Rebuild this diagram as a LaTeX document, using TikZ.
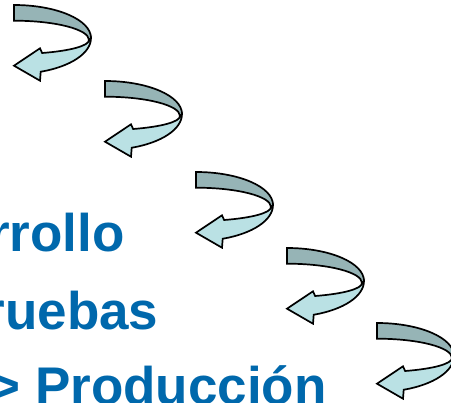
\documentclass[tikz,border=0pt]{standalone}
\usepackage{fontspec}
\setmainfont{Liberation Sans}
\definecolor{bandtop}{RGB}{150,180,182}
\definecolor{bandlow}{RGB}{186,225,228}
\definecolor{wordblue}{RGB}{0,104,172}
\begin{document}
\begin{tikzpicture}[x=1pt,y=1pt,line width=1.7pt,
  word/.style={anchor=base west,inner sep=0,text=wordblue,font=\fontsize{53}{60}\selectfont\bfseries}]

\useasboundingbox (0,0) rectangle (451,-403);

\clip (0,0) rectangle (451,-403);

\foreach \px/\py in {14/-5,105/-81,196/-172,287/-248,377/-323} {
\begin{scope}[shift={(\px,\py)}]

\draw [fill=bandtop] (0,0) arc[start angle=90,end angle=0,x radius=77,y radius=33] -- (75,-35) arc[start angle=0,end angle=90,x radius=75,y radius=19.3] -- cycle;

\draw [fill=bandlow] (77,-33) arc[start angle=0,end angle=-69.7,x radius=77,y radius=36] -- (26,-75.7) -- (0,-60.7) -- (26,-43.3) -- (28.1,-48) arc[start angle=-68,end angle=0,x radius=75,y radius=14] -- cycle;

\end{scope}
}

\node [word] (rrollo) at (-11.5,-252) {rrollo};

\node [word] (ruebas) at (-16.2,-330) {ruebas};

\node [word] (produccion) at (-11.4,-405) {> Producción};

\end{tikzpicture}
\end{document}
